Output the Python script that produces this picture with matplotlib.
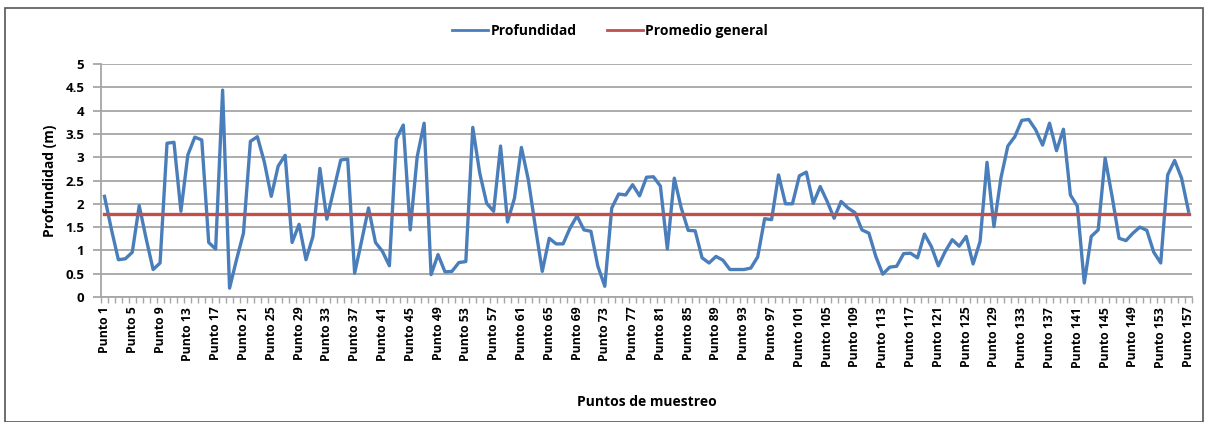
import matplotlib
matplotlib.use("Agg")
import matplotlib.pyplot as plt
from matplotlib.patches import Rectangle
import numpy as np

profundidad = [
    2.16, 1.45, 0.80, 0.82, 0.96, 1.96, 1.25, 0.59, 0.73, 3.30,
    3.32, 1.84, 3.05, 3.43, 3.37, 1.17, 1.03, 4.44, 0.19, 0.80,
    1.37, 3.34, 3.44, 2.90, 2.16, 2.81, 3.04, 1.17, 1.56, 0.80,
    1.30, 2.76, 1.67, 2.30, 2.94, 2.96, 0.51, 1.20, 1.91, 1.17,
    0.98, 0.67, 3.39, 3.69, 1.44, 3.01, 3.73, 0.48, 0.91, 0.54,
    0.55, 0.74, 0.76, 3.64, 2.66, 2.01, 1.84, 3.24, 1.61, 2.12,
    3.21, 2.51, 1.51, 0.55, 1.26, 1.14, 1.14, 1.48, 1.74, 1.44,
    1.41, 0.66, 0.23, 1.91, 2.21, 2.19, 2.41, 2.17, 2.57, 2.58,
    2.38, 1.03, 2.55, 1.91, 1.43, 1.42, 0.84, 0.73, 0.87, 0.79,
    0.59, 0.59, 0.59, 0.62, 0.86, 1.68, 1.66, 2.62, 2.00, 2.00,
    2.60, 2.68, 2.01, 2.37, 2.05, 1.69, 2.05, 1.91, 1.81, 1.44,
    1.37, 0.87, 0.49, 0.64, 0.66, 0.93, 0.94, 0.84, 1.35, 1.08,
    0.67, 0.98, 1.23, 1.09, 1.30, 0.71, 1.19, 2.89, 1.51, 2.55,
    3.24, 3.44, 3.79, 3.81, 3.59, 3.26, 3.73, 3.14, 3.60, 2.19,
    1.95, 0.30, 1.30, 1.44, 2.98, 2.16, 1.26, 1.21, 1.37, 1.50,
    1.43, 0.96, 0.73, 2.62, 2.93, 2.55, 1.84,
]
promedio = 1.79
categorias = [f"Punto {i}" for i in range(1, len(profundidad) + 1)]
yticks = [0, 0.5, 1, 1.5, 2, 2.5, 3, 3.5, 4, 4.5, 5]
ytick_labels = ["0", "0.5", "1", "1.5", "2", "2.5", "3", "3.5", "4", "4.5", "5"]

plt.rcParams['font.family'] = ['Open Sans', 'DejaVu Sans']
plt.rcParams['font.weight'] = 'bold'

W, H = 1208, 422
fig = plt.figure(figsize=(W / 100, H / 100), dpi=100)
ax = fig.add_axes([101 / W, 1 - 297 / H, (1192 - 101) / W, (297 - 64) / H])

n = len(profundidad)
x = np.arange(n)
ax.plot(x, profundidad, color='#4a7ebb', lw=2.4, label='Profundidad', solid_joinstyle='round')
ax.plot(x, [promedio] * n, color='#c0504d', lw=2.4, label='Promedio general')

ax.set_xlim(-0.5, n - 0.5)
ax.set_ylim(0, 5)
ax.set_yticks(yticks)
ax.set_yticklabels(ytick_labels, fontsize=9.5, fontweight='bold')
ax.yaxis.grid(True, color='#a6a6a6', lw=1.3)
ax.set_axisbelow(True)

major = list(range(0, n, 4))
ax.set_xticks(major)
ax.set_xticklabels([categorias[i] for i in major], rotation=90, fontsize=8.8, fontweight='bold')
ax.set_xticks(np.arange(-0.5, n, 1), minor=True)
ax.tick_params(axis='x', which='major', length=0, pad=7)
ax.tick_params(axis='x', which='minor', length=4, color='#a6a6a6', width=1)
ax.tick_params(axis='y', length=6, color='#a6a6a6', width=1.3, pad=6)

for s in ['top', 'right']:
    ax.spines[s].set_visible(False)
for s in ['left', 'bottom']:
    ax.spines[s].set_color('#a6a6a6')
    ax.spines[s].set_linewidth(1.3)

ax.set_xlabel('Puntos de muestreo', fontsize=10, fontweight='bold')
ax.set_ylabel('Profundidad (m)', fontsize=10, fontweight='bold', labelpad=6)
ax.xaxis.set_label_coords(0.5, -0.42)

leg = fig.legend(loc='center', bbox_to_anchor=(610 / W, 1 - 31 / H), ncol=2, frameon=False,
                 prop={'weight': 'bold', 'size': 10}, handlelength=2.6, handletextpad=0.15,
                 columnspacing=2.2)
for l in leg.get_lines():
    l.set_linewidth(2)

fig.patches.append(Rectangle((5 / W, 0), (1203 - 5) / W, 1 - 8 / H, transform=fig.transFigure,
                             fill=False, edgecolor='#555555', lw=1.2))

fig.savefig('out.png', dpi=100)
